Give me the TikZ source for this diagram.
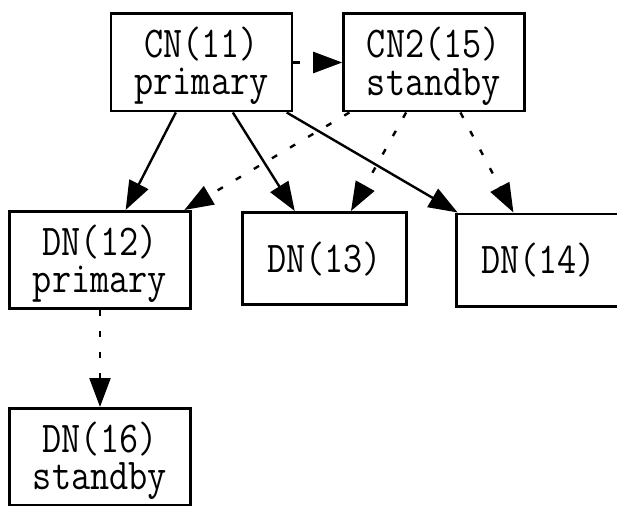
\documentclass[tikz,border=0pt]{standalone}
\usepackage{graphicx}
\usetikzlibrary{arrows.meta}

% condensed monospace label, one or more centred lines
\newcommand\boxtext[1]{\raisebox{-4pt}[\height][\depth]{\scalebox{0.845}[1]{\begin{tabular}{@{}c@{}}#1\end{tabular}}}}

\begin{document}
\begin{tikzpicture}[x=1pt,y=-1pt,
  box/.style={draw, rectangle, line width=2.6pt, inner sep=0pt, outer sep=1.3pt,
    font=\fontsize{44}{36}\selectfont\ttfamily},
  wide/.style={minimum width=181pt, minimum height=97.4pt},
  narrow/.style={minimum width=164pt, minimum height=92.4pt},
  link/.style={line width=2.4pt, -{Triangle[length=29pt,width=21pt]}},
  dashlink/.style={link, dash pattern=on 7pt off 13pt},
  dotlink/.style={link, dash pattern=on 6pt off 15pt}]

\fill[white] (0,0) rectangle (617,505);
\useasboundingbox (0,0) rectangle (617,505);
\clip (0,0) rectangle (617,505);

% coordinator nodes
\node[box, wide] (cn11) at (201.5,62.5) {\boxtext{CN(11)\\primary}};
\node[box, wide] (cn2)  at (434,62.5)   {\boxtext{CN2(15)\\standby}};

% data nodes
\node[box, wide]   (dn12) at (100,260)   {\boxtext{DN(12)\\primary}};
\node[box, narrow] (dn13) at (324.5,258.5) {\boxtext{DN(13)}};
\node[box, narrow] (dn14) at (538.5,260) {\boxtext{DN(14)}};
\node[box, wide]   (dn16) at (100,457)   {\boxtext{DN(16)\\standby}};

% primary links
\draw[dashlink] (cn11) -- (cn2);
\draw[link] (cn11) -- (dn12);
\draw[link] (cn11) -- (dn13);
\draw[link] (cn11) -- (dn14);

% standby links
\draw[dotlink] (cn2) -- (dn12);
\draw[dotlink] (cn2) -- (dn13);
\draw[dotlink] (cn2) -- (dn14);
\draw[dotlink] (dn12) -- (dn16);
\end{tikzpicture}
\end{document}
